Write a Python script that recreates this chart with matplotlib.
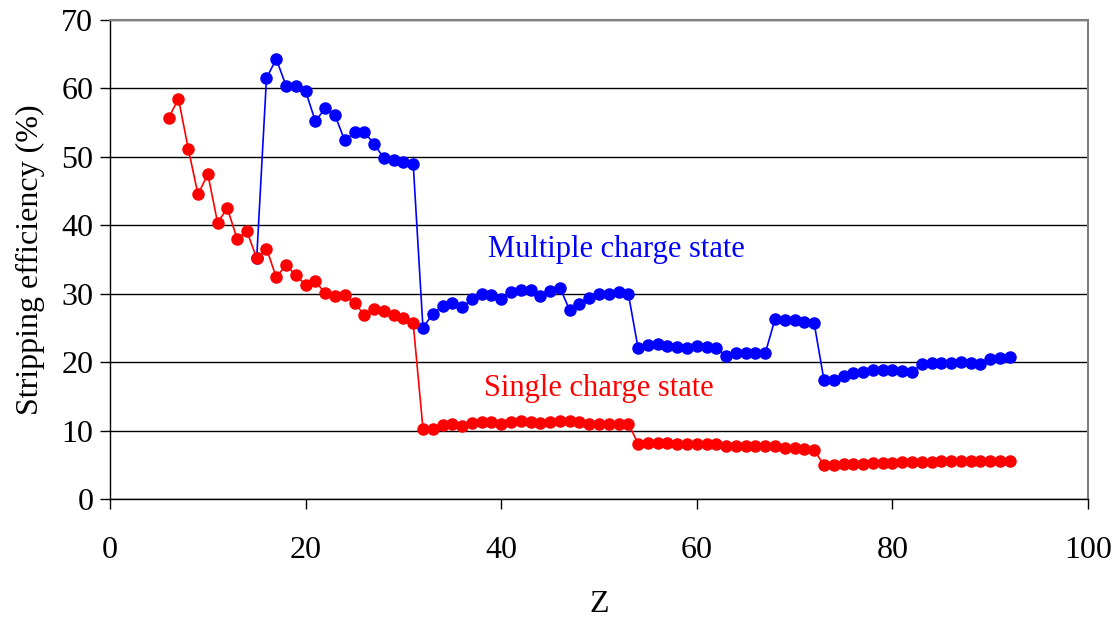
import numpy as np
import matplotlib
matplotlib.use("Agg")
import matplotlib.pyplot as plt

plt.rcParams['font.family'] = ['Liberation Serif', 'DejaVu Serif']

# single charge state (red), Z = 6..92
z_single = list(range(6, 93))
single = [55.7, 58.5, 51.2, 44.5, 47.5, 40.4, 42.5, 38.0, 39.1, 35.2,
          36.6, 32.4, 34.2, 32.7, 31.3, 31.8, 30.1, 29.6, 29.8, 28.7,
          26.9, 27.7, 27.5, 26.9, 26.4, 25.7,
          10.3, 10.2, 10.8, 11.0, 10.6, 11.1, 11.3, 11.2, 11.0, 11.3,
          11.4, 11.3, 11.1, 11.2, 11.4, 11.4, 11.3, 10.9, 10.9, 10.9,
          11.0, 11.0,
          8.1, 8.2, 8.2, 8.2, 8.0, 8.0, 8.1, 8.1, 8.0, 7.8,
          7.8, 7.8, 7.8, 7.8, 7.7, 7.5, 7.4, 7.3, 7.1,
          5.0, 5.0, 5.1, 5.1, 5.1, 5.2, 5.3, 5.3, 5.4, 5.4,
          5.4, 5.4, 5.5, 5.5, 5.6, 5.6, 5.6, 5.6, 5.6, 5.6]

# multiple charge state (blue), Z = 15..92
z_multi = list(range(15, 93))
multi = [35.2, 61.5, 64.3, 60.4, 60.3, 59.6, 55.2, 57.1, 56.1, 52.4,
         53.6, 53.6, 51.9, 49.8, 49.5, 49.2, 49.0,
         25.0, 27.1, 28.2, 28.6, 28.0, 29.2, 29.9, 29.8, 29.3, 30.3,
         30.6, 30.5, 29.7, 30.4, 30.9, 27.6, 28.5, 29.4, 29.9, 30.0,
         30.2, 30.0,
         22.0, 22.5, 22.6, 22.4, 22.2, 22.0, 22.3, 22.2, 22.1, 20.9,
         21.3, 21.4, 21.4, 21.3, 26.3, 26.2, 26.1, 25.9, 25.7,
         17.4, 17.4, 18.0, 18.4, 18.6, 18.8, 18.8, 18.8, 18.7, 18.6,
         19.7, 19.9, 19.9, 19.9, 20.0, 19.9, 19.8, 20.5, 20.6, 20.7]

fig = plt.figure(figsize=(11.18, 6.19), dpi=100)
ax = fig.add_axes([110/1118, 1 - 499/619, 978/1118, 479/619])

ax.plot(z_multi, multi, color='#0000FF', lw=1.2, marker='o', ms=8, zorder=3)
ax.plot(z_single, single, color='#FF0000', lw=1.2, marker='o', ms=8, zorder=4)

ax.set_xlim(0, 100)
ax.set_ylim(0, 70)
ax.set_xticks(np.arange(0, 101, 20))
ax.set_yticks(np.arange(0, 71, 10))
ax.yaxis.grid(True, color='black', lw=1)
ax.set_axisbelow(True)

for s in ['top', 'right']:
    ax.spines[s].set_color('#808080')
    ax.spines[s].set_linewidth(1.5)
for s in ['left', 'bottom']:
    ax.spines[s].set_color('black')
    ax.spines[s].set_linewidth(1)

ax.tick_params(axis='both', labelsize=23, direction='out', length=7, width=1)
ax.tick_params(axis='x', pad=20)
ax.tick_params(axis='y', pad=5)

ax.set_xlabel('Z', fontsize=23, labelpad=18)
ax.set_ylabel('Stripping efficiency (%)', fontsize=23, labelpad=12)

ax.text(38.7, 36.4, 'Multiple charge state', color='#0000FF', fontsize=22, va='center')
ax.text(38.2, 16.2, 'Single charge state', color='#FF0000', fontsize=22, va='center')

fig.savefig('out.png', dpi=100)
